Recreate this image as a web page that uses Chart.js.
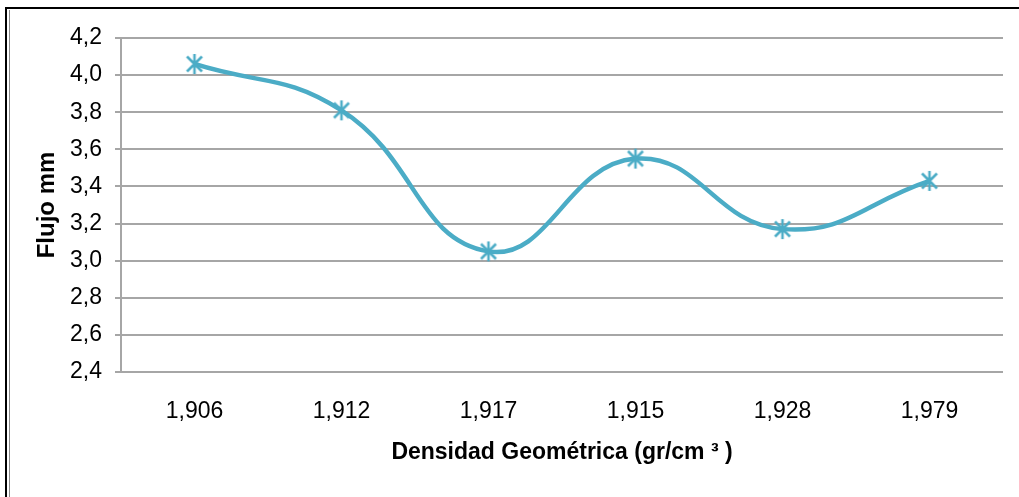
<!DOCTYPE html>
<html>
<head>
<meta charset="utf-8">
<script src="https://cdn.jsdelivr.net/npm/chart.js@4.4.0/dist/chart.umd.min.js"></script>
<style>
  html, body { margin: 0; padding: 0; background: #fff; }
  #wrap { position: relative; width: 1019px; height: 497px; }
</style>
</head>
<body>
<div id="wrap"><canvas id="chart" width="1019" height="497"></canvas></div>
<script>
// Densidad geométrica vs flujo
const densidades = ["1,906", "1,912", "1,917", "1,915", "1,928", "1,979"];
const flujo = [4.06, 3.81, 3.05, 3.55, 3.17, 3.43];
const yTicks = [2.4, 2.6, 2.8, 3.0, 3.2, 3.4, 3.6, 3.8, 4.0, 4.2];

const lineColor = "#4bacc6";
const gridColor = "#a6a6a6";
const fontFamily = "'Liberation Sans', Arial, sans-serif";

// Asterisk marker: vertical bar plus an X
function makeStar(size, color) {
  const c = document.createElement("canvas");
  c.width = size;
  c.height = size;
  const g = c.getContext("2d");
  const m = size / 2;
  const r = size / 2 - 1;
  g.strokeStyle = color;
  g.lineWidth = 2.5;
  g.beginPath();
  g.moveTo(m, m - r);
  g.lineTo(m, m + r);
  const d = r * 0.75;
  g.moveTo(m - d, m - d);
  g.lineTo(m + d, m + d);
  g.moveTo(m + d, m - d);
  g.lineTo(m - d, m + d);
  g.stroke();
  return c;
}
const star = makeStar(22, lineColor);

// Frame around the chart (top line and double left line)
const framePlugin = {
  id: "frame",
  beforeDraw(chart) {
    const ctx = chart.ctx;
    ctx.save();
    ctx.fillStyle = "#fff";
    ctx.fillRect(0, 0, chart.width, chart.height);
    ctx.strokeStyle = "#000";
    ctx.lineWidth = 2;
    ctx.beginPath();
    ctx.moveTo(5, 8);
    ctx.lineTo(chart.width, 8);
    ctx.moveTo(6, 8);
    ctx.lineTo(6, chart.height);
    ctx.stroke();
    ctx.strokeStyle = "#888";
    ctx.lineWidth = 1;
    ctx.beginPath();
    ctx.moveTo(9.5, 10);
    ctx.lineTo(9.5, chart.height);
    ctx.stroke();
    ctx.restore();
  },
};

const ctx = document.querySelector("#chart").getContext("2d");
new Chart(ctx, {
  type: "line",
  data: {
    labels: densidades,
    datasets: [
      {
        data: flujo,
        borderColor: lineColor,
        borderWidth: 4.5,
        tension: 0.45,
        pointStyle: star,
        pointRadius: 11,
        pointHoverRadius: 11,
      },
    ],
  },
  options: {
    responsive: false,
    animation: false,
    layout: { padding: { top: 38, right: 16, bottom: 0, left: 0 } },
    plugins: { legend: { display: false }, tooltip: { enabled: false } },
    scales: {
      x: {
        offset: true,
        grid: { display: false },
        border: { display: false },
        ticks: {
          color: "#000",
          padding: 18,
          maxRotation: 0,
          font: { family: fontFamily, size: 23 },
        },
        title: {
          display: true,
          text: "Densidad Geométrica (gr/cm ³ )",
          color: "#000",
          padding: { top: 0, bottom: 31 },
          font: { family: fontFamily, size: 23, weight: "bold" },
        },
        afterFit(scale) {
          scale.height = 125;
        },
      },
      y: {
        min: 2.4,
        max: 4.2,
        afterBuildTicks(scale) {
          scale.ticks = yTicks.map((v) => ({ value: v }));
        },
        grid: { color: gridColor, lineWidth: 2, tickLength: 6 },
        border: { color: gridColor, width: 2 },
        ticks: {
          color: "#000",
          padding: 13,
          font: { family: fontFamily, size: 23 },
          callback: (v) => v.toFixed(1).replace(".", ","),
        },
        title: {
          display: true,
          text: "Flujo mm",
          color: "#000",
          padding: { top: 33, bottom: 0 },
          font: { family: fontFamily, size: 24, weight: "bold" },
        },
        afterFit(scale) {
          scale.width = 121;
        },
      },
    },
  },
  plugins: [framePlugin],
});
</script>
</body>
</html>
